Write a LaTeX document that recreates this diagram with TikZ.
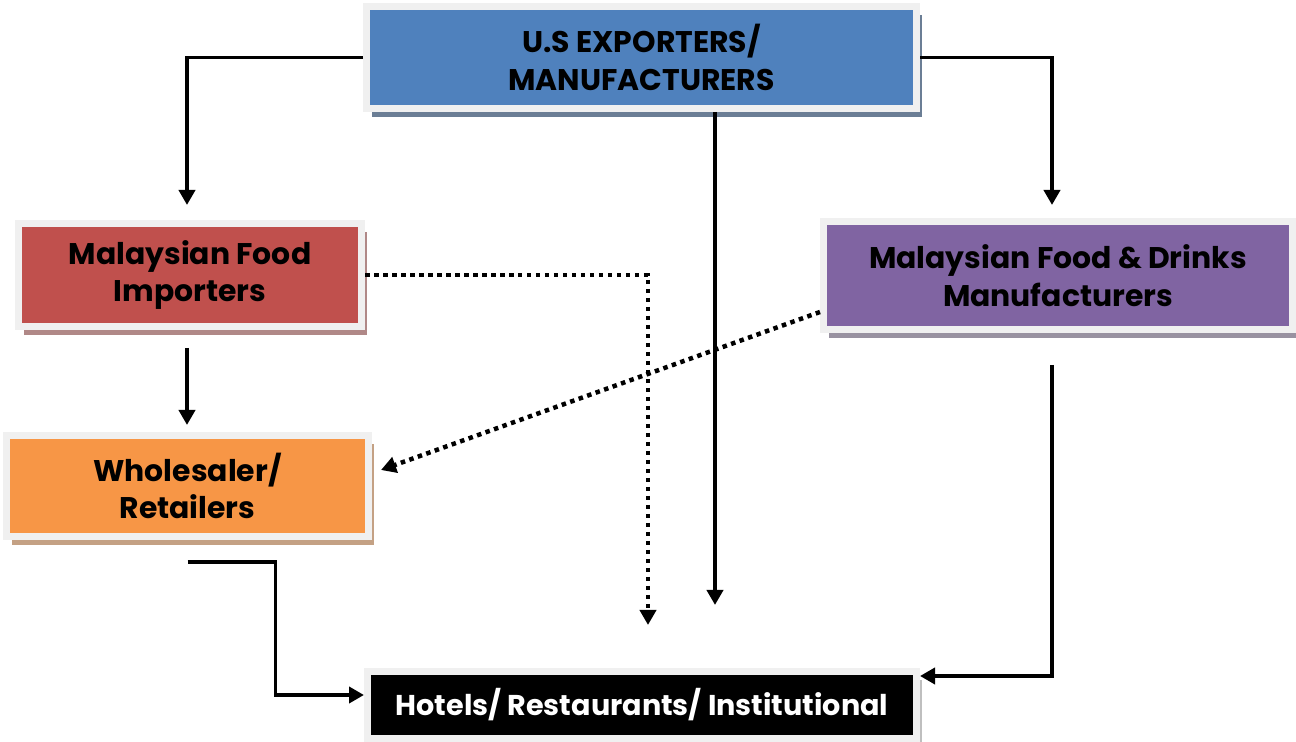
\documentclass[tikz,border=0pt]{standalone}
\usepackage{fontspec}
\setsansfont{Poppins}
\usetikzlibrary{arrows.meta,shadows}
\definecolor{usblue}{HTML}{4F81BD}
\definecolor{myred}{HTML}{C0504D}
\definecolor{myorange}{HTML}{F79646}
\definecolor{mypurple}{HTML}{8064A2}
\definecolor{frame}{HTML}{F0F0F0}
\begin{document}
\begin{tikzpicture}[>={Triangle[width=.32cm,length=.3cm]},
box/.style={draw=frame,line width=.14cm,align=center,inner sep=0pt,
 font=\sffamily\bfseries\fontsize{17}{21.5}\selectfont,
 drop shadow={shadow xshift=.1cm,shadow yshift=-.17cm,fill=#1,opacity=1}},
flow/.style={->,line width=.075cm},
dots/.style={->,line width=.09cm,dash pattern=on .09cm off .09cm}]
\useasboundingbox(0,0)rectangle(25.92,14.84);
\node[box=black!45!usblue!70!white,fill=usblue,minimum width=11cm,minimum height=2.04cm](us)at(12.83,13.69){U.S EXPORTERS/\\MANUFACTURERS};
\node[box=myred!45!gray!80!white,fill=myred,minimum width=6.86cm,minimum height=2.06cm](imp)at(3.8,9.34){Malaysian Food\\Importers};
\node[box=myorange!45!gray!80!white,fill=myorange,minimum width=7.24cm,minimum height=2.02cm](whs)at(3.75,5.12){Wholesaler/\\Retailers};
\node[box=mypurple!30!gray!80!white,fill=mypurple,minimum width=9.38cm,minimum height=2.16cm](mfr)at(21.16,9.33){Malaysian Food \& Drinks\\Manufacturers};
\node[box=black!25,fill=black,text=white,minimum width=10.98cm,minimum height=1.34cm,font=\sffamily\bfseries\fontsize{16.3}{20}\selectfont](hri)at(12.84,.74){Hotels/ Restaurants/ Institutional};
\coordinate(endA)at(14.3,2.74);
\coordinate(endB)at(12.96,2.34);
\draw[flow,shorten >=.3cm](us.west)-|([xshift=-.06cm]imp.north);
\draw[flow,shorten >=.26cm](us.east)-|([xshift=-.12cm]mfr.north);
\draw[flow](endA|-us.south)--(endA);
\draw[flow,shorten <=.36cm,shorten >=.14cm]([xshift=-.06cm]imp.south)--([xshift=-.06cm]imp.south|-whs.north);
\draw[dots](imp.east)-|(endB);
\draw[dots]([yshift=-.73cm]mfr.west)--([xshift=.18cm,yshift=.32cm]whs.east);
\draw[flow]([yshift=-.44cm]whs.south)--++(1.76,0)|-([yshift=.2cm]hri.west);
\draw[flow]([xshift=-.12cm,yshift=-.64cm]mfr.south)|-([yshift=.58cm]hri.east);
\end{tikzpicture}
\end{document}
